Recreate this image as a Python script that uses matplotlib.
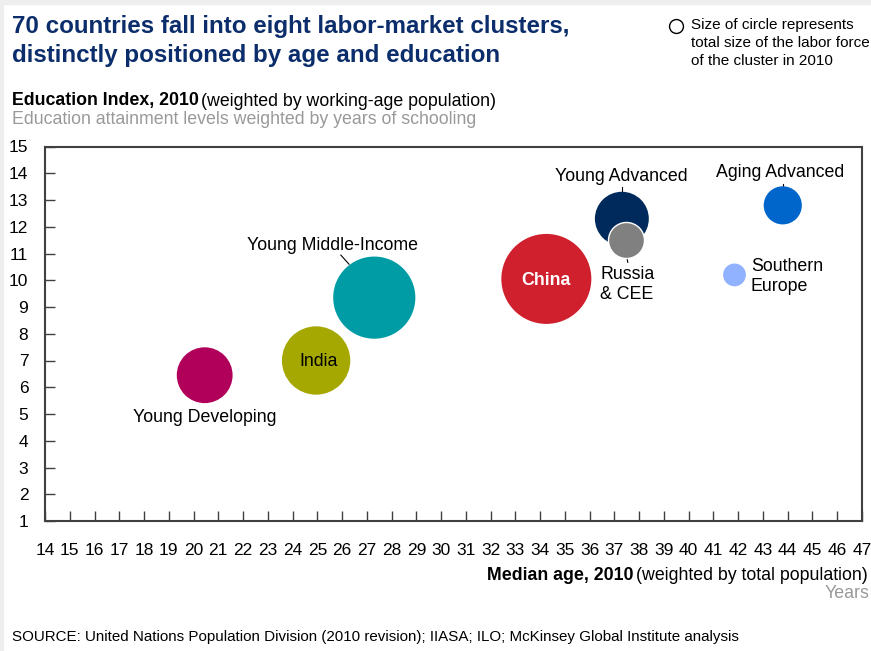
import numpy as np
import matplotlib
matplotlib.use("Agg")
import matplotlib.pyplot as plt
from matplotlib.patches import Rectangle
from matplotlib.lines import Line2D

# datos de los clusters
clusters = ['Young Developing', 'India', 'Young Middle-Income', 'China',
            'Young Advanced', 'Russia & CEE', 'Aging Advanced', 'Southern Europe']
median_age = [20.45, 24.95, 27.3, 34.25, 37.3, 37.45, 43.8, 41.85]
education = [6.45, 7.0, 9.35, 10.05, 12.3, 11.5, 12.8, 10.2]
labor_force = [300, 450, 650, 780, 280, 125, 140, 50]  # millones (estimado)
colores = ['#B0005A', '#A5A800', '#009CA6', '#D0202E',
           '#002A5C', '#808080', '#0066CC', '#91B2FF']

W, H = 871, 651
fig = plt.figure(figsize=(W / 100, H / 100), dpi=100)
fig.patch.set_facecolor('white')

def fx(x):
    return x / W

def fy(y):
    return 1 - y / H

# borde gris arriba e izquierda
fig.patches.append(Rectangle((0, fy(4)), 1, 4 / H, transform=fig.transFigure,
                             color='#EEEEEE', zorder=0))
fig.patches.append(Rectangle((0, 0), 3 / W, 1, transform=fig.transFigure,
                             color='#EEEEEE', zorder=0))

narrow = ['Liberation Sans Narrow', 'Liberation Sans', 'DejaVu Sans']
arial = ['Liberation Sans', 'DejaVu Sans']

ax = fig.add_axes([fx(45), fy(521), (862 - 45) / W, (521 - 146.5) / H])
ax.set_xlim(14, 47)
ax.set_ylim(1, 15)
ax.set_xticks(range(14, 48))
ax.set_yticks(range(1, 16))
ax.tick_params(direction='in', length=7, width=1, color='#404040')
ax.tick_params(axis='x', pad=16)
ax.tick_params(axis='y', pad=12)
for lab in ax.get_xticklabels() + ax.get_yticklabels():
    lab.set_family(narrow)
    lab.set_fontsize(12.5)
for s in ax.spines.values():
    s.set_color('#404040')
    s.set_linewidth(1.5)

# burbujas
max_r = 45  # px del cluster mas grande
radios = [max_r * np.sqrt(v / max(labor_force)) for v in labor_force]
sizes = [(2 * r * 0.72) ** 2 for r in radios]
for i in range(len(clusters)):
    ec = 'white' if clusters[i] == 'Russia & CEE' else 'none'
    ax.scatter(median_age[i], education[i], s=sizes[i], color=colores[i],
               edgecolors=ec, linewidths=1, zorder=3 + i)

fs = 12.8
ax.text(20.46, 4.87, 'Young Developing', ha='center', va='center',
        fontsize=fs, family=arial)
ax.text(25.03, 6.95, 'India', ha='center', va='center',
        fontsize=fs, family=arial, zorder=20)
ax.text(25.63, 11.31, 'Young Middle-Income', ha='center', va='center',
        fontsize=fs, family=arial)
ax.plot([25.95, 26.28], [10.94, 10.6], color='black', lw=0.8)
ax.text(34.23, 10.0, 'China', ha='center', va='center',
        fontsize=fs, family=arial, color='white', weight='bold', zorder=20)
ax.text(37.26, 13.86, 'Young Advanced', ha='center', va='center',
        fontsize=fs, family=arial)
ax.plot([37.3, 37.3], [13.48, 13.28], color='black', lw=0.8)
ax.text(36.42, 9.85, 'Russia\n& CEE', ha='left', va='center', linespacing=1.2,
        fontsize=fs, family=arial)
ax.plot([37.5, 37.54], [10.86, 10.67], color='black', lw=0.8)
ax.text(43.68, 14.01, 'Aging Advanced', ha='center', va='center',
        fontsize=fs, family=arial)
ax.plot([43.8, 43.8], [13.58, 13.45], color='black', lw=0.8)
ax.text(42.51, 10.15, 'Southern\nEurope', ha='left', va='center', linespacing=1.2,
        fontsize=fs, family=arial)

# titulos
fig.text(fx(12), fy(41), '70 countries fall into eight labor-market clusters,\n'
         'distinctly positioned by age and education', ha='left', va='center',
         fontsize=17.4, weight='bold', color='#0B2D6B', family=narrow, linespacing=1.35)

fig.add_artist(Line2D([fx(676)], [fy(26)], marker='o', markersize=10,
                      markerfacecolor='none', markeredgecolor='black',
                      markeredgewidth=1, transform=fig.transFigure))
fig.text(fx(691), fy(43), 'Size of circle represents\ntotal size of the labor force\n'
         'of the cluster in 2010', ha='left', va='center', fontsize=11,
         family=narrow, linespacing=1.35)

t1 = fig.text(fx(12), fy(101), 'Education Index, 2010', ha='left', va='center',
              fontsize=12.8, weight='bold', family=narrow)
fig.canvas.draw()
bb = t1.get_window_extent()
fig.text(bb.x1 / W + 0.003, fy(101), '(weighted by working-age population)', ha='left',
         va='center', fontsize=12.8, family=narrow)
fig.text(fx(12), fy(119), 'Education attainment levels weighted by years of schooling',
         ha='left', va='center', fontsize=12.8, family=narrow, color='#999999')

t2 = fig.text(fx(868), fy(576), '(weighted by total population)', ha='right',
              va='center', fontsize=12.8, family=narrow)
fig.canvas.draw()
bb2 = t2.get_window_extent()
fig.text(bb2.x0 / W - 0.003, fy(576), 'Median age, 2010', ha='right', va='center',
         fontsize=12.8, weight='bold', family=narrow)
fig.text(fx(869), fy(594), 'Years', ha='right', va='center', fontsize=12.8,
         family=narrow, color='#999999')

fig.text(fx(12), fy(637), 'SOURCE: United Nations Population Division (2010 revision); '
         'IIASA; ILO; McKinsey Global Institute analysis', ha='left', va='center',
         fontsize=10.9, family=narrow)

fig.savefig('out.png', dpi=100)
